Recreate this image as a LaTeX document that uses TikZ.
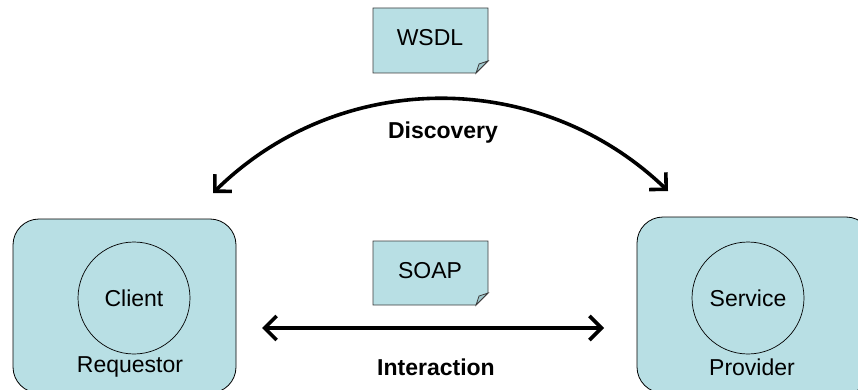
\documentclass[tikz,border=0pt]{standalone}
\usepackage{fontspec}
\setmainfont{Liberation Sans}
\usetikzlibrary{arrows.meta}
\definecolor{boxfill}{RGB}{184,223,228}
\definecolor{foldfill}{RGB}{160,200,205}
\definecolor{edge}{RGB}{60,60,60}
\begin{document}
\begin{tikzpicture}[x=1pt,y=-1pt,
  lbl/.style={font=\fontsize{23}{26}\selectfont, inner sep=0pt},
  blbl/.style={font=\fontsize{23}{26}\selectfont\bfseries, inner sep=0pt},
  hostbox/.style={draw=black, line width=0.8pt, fill=boxfill, rounded corners=26pt},
  role/.style={circle, draw=black, line width=0.7pt, minimum size=112pt, inner sep=0pt, font=\fontsize{23}{26}\selectfont},
  note/.style={draw=edge, line width=0.8pt, fill=boxfill},
  fold/.style={draw=edge, line width=0.8pt, fill=foldfill},
  tip/.tip={Straight Barb[length=12pt,width=24pt,line width=3.6pt]},
  conn2/.style={line width=3.6pt, tip-tip}
]
\useasboundingbox (0,0) rectangle (858,390);
\clip (0,0) rectangle (858,390);
% host boxes
\draw[hostbox] (13,219) rectangle (236,393);
\draw[hostbox] (637,217) rectangle (872,393);
\node[role] (client) at (134,298) {Client};
\node[role] (service) at (748,298) {Service};
\node[lbl] (req) at (130,367) {Requestor};
\node[lbl] (prov) at (752,367) {Provider};
% notes
\draw[note] (373,8) -- (488,8) -- (488,61) -- (476,73) -- (373,73) -- cycle;
\draw[fold] (476,73) -- (479,64) -- (488,61) -- cycle;
\node[lbl] (wsdl) at (430,38) {WSDL};
\draw[note] (373,241) -- (488,241) -- (488,293) -- (476,305) -- (373,305) -- cycle;
\draw[fold] (476,305) -- (479,296) -- (488,293) -- cycle;
\node[lbl] (soap) at (430,271) {SOAP};
% connectors
\coordinate (dl) at (213,193);
\coordinate (dr) at (668,191);
\coordinate (il) at (262,328);
\coordinate (ir) at (604,328);
\draw[conn2] (dl) .. controls (340,68) and (540,68) .. (dr);
\draw[conn2] (il) -- (ir);
\node[blbl] (disc) at (443,133) {Discovery};
\node[blbl] (inter) at (436,367) {Interaction};
\end{tikzpicture}
\end{document}
